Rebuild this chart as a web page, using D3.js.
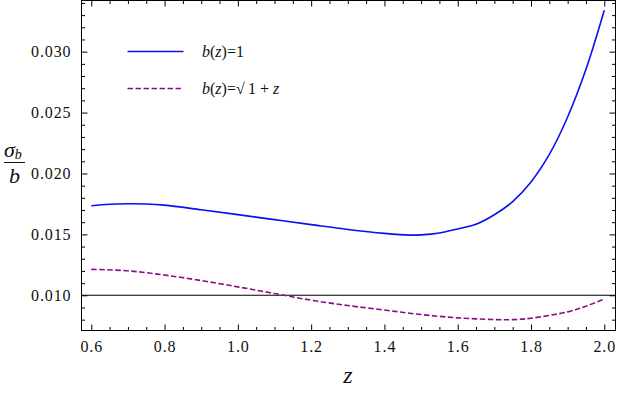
<!DOCTYPE html>
<html><head><meta charset="utf-8">
<script src="https://cdn.jsdelivr.net/npm/d3@7"></script>
<style>html,body{margin:0;padding:0;background:#fff;}svg{display:block;}</style>
</head><body>
<script>
const zValues = [0.6,0.65,0.7,0.75,0.8,0.9,1.0,1.1,1.2,1.3,1.4,1.47,1.5,1.55,1.6,1.65,1.7,1.75,1.8,1.85,1.9,1.95,2.0];
const sigmaB1 = [0.01735,0.01748,0.01752,0.01750,0.01740,0.01702,0.01662,0.01621,0.01580,0.01540,0.01508,0.01494,0.01496,0.01512,0.01545,0.01583,0.01661,0.01769,0.01930,0.02156,0.02464,0.02855,0.03340];
const zValues2 = [0.6,0.7,0.8,0.9,1.0,1.1,1.2,1.3,1.4,1.5,1.6,1.7,1.75,1.8,1.9,1.95,2.0];
const sigmaBsqrt = [0.01213,0.01201,0.01166,0.01121,0.01069,0.01015,0.00960,0.00916,0.00879,0.00842,0.00815,0.00801,0.00800,0.00812,0.00864,0.00910,0.00970];
const xTicks = [0.6,0.8,1.0,1.2,1.4,1.6,1.8,2.0];
const yTicks = [0.010,0.015,0.020,0.025,0.030];
const refLevel = 0.010;

const W=617,H=393;
const L=81.5,R=615.5,T=0.5,B=330.5;
const x=d3.scaleLinear().domain([0.5733,2.0306]).range([L,R]);
const y=d3.scaleLinear().domain([0.00711,0.0342]).range([B,T]);

const svg=d3.select("body").append("svg").attr("width",W).attr("height",H);
const SERIF='"Liberation Serif", "Times New Roman"';

svg.append("rect").attr("x",L).attr("y",T).attr("width",R-L).attr("height",B-T)
  .attr("fill","none").attr("stroke","#000").attr("stroke-width",1);

const xMinor=d3.range(0.55,2.06,0.05).map(v=>+v.toFixed(2)).filter(v=>v>x.domain()[0]&&v<x.domain()[1]&&!xTicks.some(t=>Math.abs(t-v)<1e-6));
const yMinor=d3.range(0.006,0.0345,0.001).map(v=>+v.toFixed(3)).filter(v=>v>y.domain()[0]&&v<y.domain()[1]&&!yTicks.some(t=>Math.abs(t-v)<1e-7));

const fmtY=d3.format(".3f"), fmtX=d3.format(".1f");

function axes(){
  const gs=[];
  gs.push(svg.append("g").attr("transform",`translate(0,${B})`)
    .call(d3.axisBottom(x).tickValues(xTicks).tickFormat(fmtX).tickSizeInner(-6).tickSizeOuter(0).tickPadding(10)));
  gs.push(svg.append("g").attr("transform",`translate(0,${B})`)
    .call(d3.axisBottom(x).tickValues(xMinor).tickFormat("").tickSizeInner(-3.5).tickSizeOuter(0)));
  gs.push(svg.append("g").attr("transform",`translate(0,${T})`)
    .call(d3.axisTop(x).tickValues(xTicks).tickFormat("").tickSizeInner(-6).tickSizeOuter(0)));
  gs.push(svg.append("g").attr("transform",`translate(0,${T})`)
    .call(d3.axisTop(x).tickValues(xMinor).tickFormat("").tickSizeInner(-3.5).tickSizeOuter(0)));
  gs.push(svg.append("g").attr("transform",`translate(${L},0)`)
    .call(d3.axisLeft(y).tickValues(yTicks).tickFormat(fmtY).tickSizeInner(-6).tickSizeOuter(0).tickPadding(10)));
  gs.push(svg.append("g").attr("transform",`translate(${L},0)`)
    .call(d3.axisLeft(y).tickValues(yMinor).tickFormat("").tickSizeInner(-3.5).tickSizeOuter(0)));
  gs.push(svg.append("g").attr("transform",`translate(${R},0)`)
    .call(d3.axisRight(y).tickValues(yTicks).tickFormat("").tickSizeInner(-6).tickSizeOuter(0)));
  gs.push(svg.append("g").attr("transform",`translate(${R},0)`)
    .call(d3.axisRight(y).tickValues(yMinor).tickFormat("").tickSizeInner(-3.5).tickSizeOuter(0)));
  gs.forEach(g=>{
    g.select(".domain").remove();
    g.selectAll("line").attr("stroke","#000").attr("stroke-width",1);
    g.selectAll("text").style("font-family",SERIF).style("font-size","16px").style("letter-spacing","0.9px").attr("fill","#111");
  });
}
axes();

svg.append("line").attr("x1",L).attr("x2",R).attr("y1",y(refLevel)).attr("y2",y(refLevel))
  .attr("stroke","#000").attr("stroke-width",1.1);

const line=d3.line().curve(d3.curveCatmullRom.alpha(0.5));
svg.append("path").attr("d",line(zValues.map((z,i)=>[x(z),y(sigmaB1[i])])))
  .attr("fill","none").attr("stroke","#0a10f5").attr("stroke-width",1.6);
svg.append("path").attr("d",line(zValues2.map((z,i)=>[x(z),y(sigmaBsqrt[i])])))
  .attr("fill","none").attr("stroke","#8b0d8b").attr("stroke-width",1.6).attr("stroke-dasharray","5.5,2.5");

// legend
svg.append("line").attr("x1",127.5).attr("x2",183.5).attr("y1",51.5).attr("y2",51.5)
  .attr("stroke","#0a10f5").attr("stroke-width",1.6);
svg.append("line").attr("x1",127.5).attr("x2",183.5).attr("y1",88.5).attr("y2",88.5)
  .attr("stroke","#8b0d8b").attr("stroke-width",1.6).attr("stroke-dasharray","5.5,2.5");
function legText(yy,parts){
  const t=svg.append("text").attr("x",202).attr("y",yy).style("font-family",SERIF).style("font-size","16px").attr("fill","#111");
  parts.forEach(p=>t.append("tspan").style("font-style",p[1]?"italic":"normal").text(p[0]));
  return t;
}
legText(56.5,[["b",1],["(",0],["z",1],[")",0],["=1",0]]);
legText(94,[["b",1],["(",0],["z",1],[")",0],["=√",0],["\u2009",0],["1 + ",0],["z",1]]);

// axis labels
svg.append("text").attr("x",348).attr("y",383).attr("text-anchor","middle")
  .style("font-family",SERIF).style("font-style","italic").style("font-size","24px").attr("fill","#111").text("z");
const yl=svg.append("g");
yl.append("text").attr("x",4).attr("y",157).style("font-family",SERIF).style("font-style","italic").style("font-size","22px").attr("fill","#111")
  .text("σ").append("tspan").style("font-size","14px").attr("dy",2).text("b");
yl.append("line").attr("x1",4).attr("x2",25).attr("y1",162.5).attr("y2",162.5).attr("stroke","#111").attr("stroke-width",1);
yl.append("text").attr("x",14.5).attr("y",183).attr("text-anchor","middle").style("font-family",SERIF).style("font-style","italic").style("font-size","22px").attr("fill","#111").text("b");
</script>
</body></html>
